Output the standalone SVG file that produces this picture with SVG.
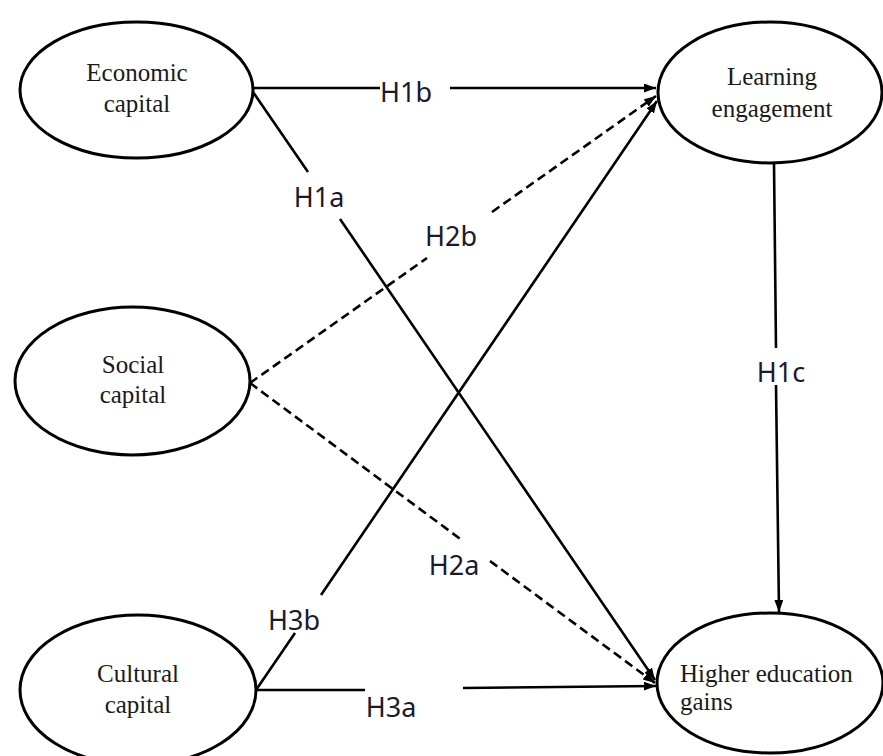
<svg xmlns="http://www.w3.org/2000/svg" width="883" height="756" viewBox="0 0 883 756">
<defs>
<style>
.node ellipse{fill:#fff;stroke:#000;stroke-width:3}
.node text{font-family:"Liberation Serif","Times New Roman",serif;font-size:25px;fill:#1a1a1a}
.edge{fill:none;stroke:#000;stroke-width:2.6}
.dash{stroke-dasharray:9 5}
.lbl{font-family:"Noto Sans","Open Sans",sans-serif;font-size:27px;fill:#1a1a2a;text-anchor:middle}
</style>
<marker id="arr" markerUnits="userSpaceOnUse" markerWidth="14" markerHeight="10" refX="12" refY="4.5" orient="auto">
<path d="M0,0 L12,4.5 L0,9 z" fill="#000"/>
</marker>
</defs>
<rect width="883" height="756" fill="#fff"/>
<g id="connectors">
<path class="edge" d="M253,88 L380,88 M450,88 L656,88" marker-end="url(#arr)"/>
<path class="edge" d="M253,92 L308,172 M340,219 L655,680" marker-end="url(#arr)"/>
<path class="edge dash" d="M250,383 L427,258 M492,212 L656,96" marker-end="url(#arr)"/>
<path class="edge dash" d="M250,383 L463,541 M490,561 L655,683" marker-end="url(#arr)"/>
<path class="edge" d="M256,690 L295,633 M321,595 L657,101" marker-end="url(#arr)"/>
<path class="edge" d="M256,690 L365,690 M463,688 L656,686" marker-end="url(#arr)"/>
<path class="edge" d="M774,163 L776,348 M776,385 L779,612" marker-end="url(#arr)"/>
<text class="lbl" x="406" y="102">H1b</text>
<text class="lbl" x="319" y="207">H1a</text>
<text class="lbl" x="451" y="246">H2b</text>
<text class="lbl" x="781" y="382">H1c</text>
<text class="lbl" x="454" y="575">H2a</text>
<text class="lbl" x="294" y="630">H3b</text>
<text class="lbl" x="391" y="717">H3a</text>
</g>
<g id="economic" class="node">
<ellipse cx="136.5" cy="90" rx="116.5" ry="68"/>
<text x="137" y="81" text-anchor="middle">Economic</text>
<text x="137" y="112" text-anchor="middle">capital</text>
</g>
<g id="social" class="node">
<ellipse cx="132.5" cy="381" rx="117.5" ry="74"/>
<text x="133" y="373" text-anchor="middle">Social</text>
<text x="133" y="403" text-anchor="middle">capital</text>
</g>
<g id="cultural" class="node">
<ellipse cx="138" cy="690" rx="118" ry="75"/>
<text x="138" y="682" text-anchor="middle">Cultural</text>
<text x="138" y="713" text-anchor="middle">capital</text>
</g>
<g id="learning" class="node">
<ellipse cx="770" cy="92.5" rx="112" ry="70.5"/>
<text x="772" y="85" text-anchor="middle">Learning</text>
<text x="772" y="117" text-anchor="middle">engagement</text>
</g>
<g id="gains" class="node">
<ellipse cx="770" cy="683" rx="113" ry="70"/>
<text x="680" y="682">Higher education</text>
<text x="680" y="710">gains</text>
</g>
</svg>
